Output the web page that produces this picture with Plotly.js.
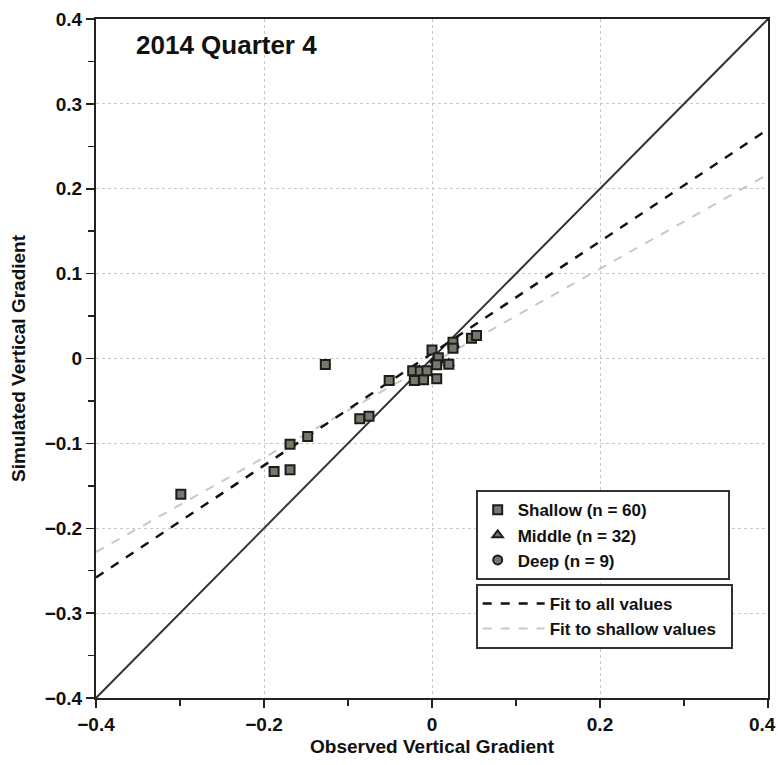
<!DOCTYPE html>
<html>
<head>
<meta charset="utf-8">
<script src="https://cdn.plot.ly/plotly-3.0.1.min.js"></script>
<style>html,body{margin:0;padding:0;background:#fff;}#chart{width:778px;height:765px;}</style>
</head>
<body>
<div id="chart"></div>
<script>
// ---- data ----
const shallowX = [-0.299, -0.188, -0.169, -0.169, -0.148, -0.127, -0.086, -0.075, -0.051,
                  -0.023, -0.021, -0.014, -0.010, -0.006, 0.000, 0.0075, 0.0056, 0.0056,
                  0.020, 0.025, 0.025, 0.047, 0.053];
const shallowY = [-0.160, -0.133, -0.131, -0.101, -0.092, -0.007, -0.071, -0.068, -0.026,
                  -0.0145, -0.026, -0.015, -0.025, -0.0145, 0.010, 0.001, -0.0074, -0.024,
                  -0.0067, 0.019, 0.012, 0.024, 0.027];
const middleX = [-0.015, 0.004, 0.020, 0.026];
const middleY = [-0.014, -0.002, -0.006, 0.016];
const deepX = [-0.021, 0.006, 0.025];
const deepY = [-0.024, -0.006, 0.013];

const oneToOneX = [-0.4, 0.4];
const oneToOneY = [-0.4, 0.4];
const fitX = [-0.4, 0.4];
const fitAllY = [-0.258, 0.270];
const fitShallowY = [-0.228, 0.217];

const xTickVals = [-0.4, -0.2, 0, 0.2, 0.4];
const xTickText = ['\u22120.4', '\u22120.2', '0', '0.2', '0.4'];

const seriesNames = ['Shallow (n = 60)', 'Middle (n = 32)', 'Deep (n = 9)'];
const lineNames = ['Fit to all values', 'Fit to shallow values'];
const titleText = '2014 Quarter 4';
const xTitle = 'Observed Vertical Gradient';
const yTitle = 'Simulated Vertical Gradient';

const FONT = 'Liberation Sans, Arial, Helvetica, sans-serif';
const markerFill = '#77786a';
const markerEdge = '#1c1c1c';
const pad = n => '\u00a0'.repeat(n);
const lastIdx = xTickText.length - 1;

const traces = [
  {x: oneToOneX, y: oneToOneY, mode: 'lines', showlegend: false, hoverinfo: 'skip',
   line: {color: '#333', width: 2}},
  {x: fitX, y: fitShallowY, mode: 'lines', name: lineNames[1] + pad(2), legend: 'legend2', legendrank: 2,
   line: {color: '#c8c8c8', width: 2, dash: 'dash'}},
  {x: fitX, y: fitAllY, mode: 'lines', name: lineNames[0], legend: 'legend2', legendrank: 1,
   line: {color: '#111', width: 2.5, dash: 'dash'}},
  {x: middleX, y: middleY, mode: 'markers', name: seriesNames[1], legendrank: 2,
   marker: {symbol: 'triangle-up', size: 9, color: markerFill, line: {color: markerEdge, width: 2}}},
  {x: deepX, y: deepY, mode: 'markers', name: seriesNames[2], legendrank: 3,
   marker: {symbol: 'circle', size: 9, color: markerFill, line: {color: markerEdge, width: 2}}},
  {x: shallowX, y: shallowY, mode: 'markers', name: seriesNames[0] + pad(16), legendrank: 1,
   marker: {symbol: 'square', size: 9, color: markerFill, line: {color: markerEdge, width: 2}}}
];

const axisCommon = {
  range: [-0.4, 0.4], autorange: false,
  showline: true, linecolor: '#222', linewidth: 2, mirror: true,
  ticks: 'outside', ticklen: 8, tickwidth: 1.5, tickcolor: '#222',
  showgrid: true, gridcolor: '#c8c8c8', griddash: 'dot', gridwidth: 1,
  zeroline: false,
  tickfont: {family: FONT, size: 19, color: '#111', weight: 'bold'}
};

const layout = {
  width: 778, height: 765,
  margin: {l: 96, r: 10, t: 19, b: 67},
  paper_bgcolor: '#fff', plot_bgcolor: '#fff',
  font: {family: FONT, color: '#111'},
  xaxis: Object.assign({}, axisCommon, {
    tickmode: 'array', tickvals: xTickVals,
    ticktext: xTickText.map((t, i) => i === lastIdx ? ' ' : t),
    minor: {dtick: 0.1, tick0: -0.4, ticks: 'outside', ticklen: 6, tickcolor: '#222', showgrid: false},
    title: {text: xTitle, font: {family: FONT, size: 19, weight: 'bold'}, standoff: 6}
  }),
  yaxis: Object.assign({}, axisCommon, {
    dtick: 0.1, tick0: -0.4,
    minor: {dtick: 0.05, ticks: 'outside', ticklen: 6, tickcolor: '#222', showgrid: false},
    title: {text: yTitle, font: {family: FONT, size: 19, weight: 'bold'}, standoff: 14}
  }),
  showlegend: true,
  legend: {x: 0.565, y: 0.306, xanchor: 'left', yanchor: 'top',
           bgcolor: '#fff', bordercolor: '#333', borderwidth: 2,
           font: {family: FONT, size: 17, weight: 'bold'},
           traceorder: 'normal', tracegroupgap: 0, itemwidth: 30},
  legend2: {x: 0.565, y: 0.168, xanchor: 'left', yanchor: 'top',
           bgcolor: '#fff', bordercolor: '#333', borderwidth: 2,
           font: {family: FONT, size: 17, weight: 'bold'},
           traceorder: 'normal', tracegroupgap: 0, itemwidth: 62},
  annotations: [{
    text: titleText, xref: 'paper', yref: 'paper', x: 0.056, y: 0.962,
    xanchor: 'left', yanchor: 'middle', showarrow: false,
    font: {family: FONT, size: 26, weight: 'bold', color: '#111'}
  }, {
    // last x tick label, right-aligned so it stays inside the page
    text: xTickText[lastIdx], xref: 'paper', yref: 'paper', x: 1, y: 0,
    xanchor: 'right', yanchor: 'top', xshift: 10, yshift: -14, showarrow: false,
    font: {family: FONT, size: 19, weight: 'bold', color: '#111'}
  }]
};

Plotly.newPlot('chart', traces, layout, {displayModeBar: false, staticPlot: true});
</script>
</body>
</html>
